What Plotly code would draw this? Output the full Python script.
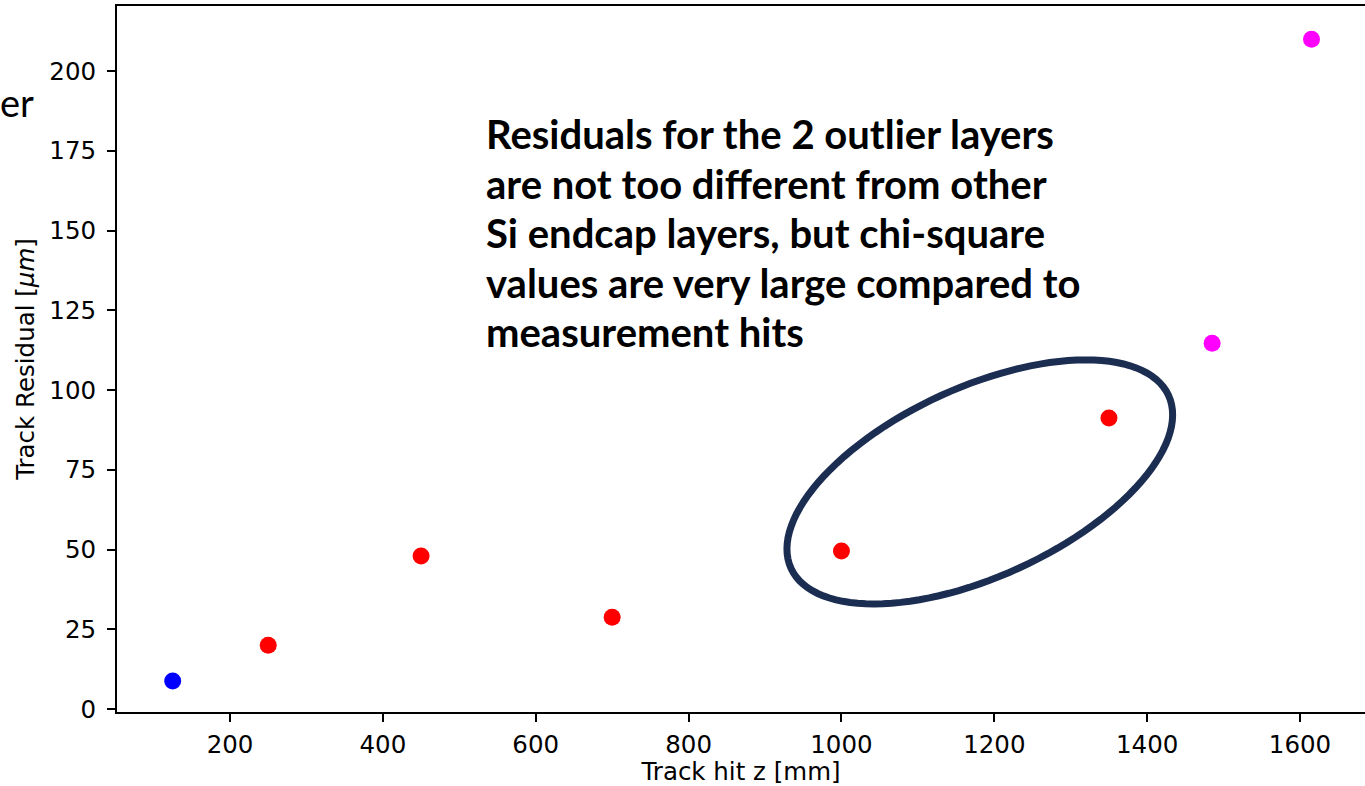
import numpy as np
import plotly.graph_objects as go

# Track hit positions along z [mm] and the fitted-track residuals [um]
hit_z = [125, 250, 450, 700, 1000, 1350, 1485, 1615]
residual = [8.8, 20.0, 48.0, 28.8, 49.5, 91.2, 114.7, 210.0]
hit_color = ["#0000ff", "#ff0000", "#ff0000", "#ff0000", "#ff0000", "#ff0000", "#ff00ff", "#ff00ff"]

x_ticks = [200, 400, 600, 800, 1000, 1200, 1400, 1600]
y_ticks = [0, 25, 50, 75, 100, 125, 150, 175, 200]

note_lines = [
    "Residuals for the 2 outlier layers",
    "are not too different from other",
    "Si endcap layers, but chi-square",
    "values are very large compared to",
    "measurement hits",
]

# Ellipse around the two outlier layers (data units: centre and two semi-axis vectors)
ell_center = (1181.0, 71.2)
ell_u = (247.0, 27.1)
ell_v = (51.5, -27.0)

fig = go.Figure()
fig.add_trace(go.Scatter(
    x=hit_z, y=residual, mode="markers",
    marker=dict(size=17, color=hit_color, line=dict(width=0)),
    showlegend=False, hoverinfo="x+y",
))

t = np.linspace(0, 2 * np.pi, 121)
ex = ell_center[0] + np.cos(t) * ell_u[0] + np.sin(t) * ell_v[0]
ey = ell_center[1] + np.cos(t) * ell_u[1] + np.sin(t) * ell_v[1]
path = "M " + " L ".join(f"{a:.2f},{b:.3f}" for a, b in zip(ex, ey)) + " Z"
fig.add_shape(type="path", path=path, xref="x", yref="y",
              line=dict(color="#1b2d51", width=7), layer="above")

tick_font = dict(family="DejaVu Sans", size=24.5, color="#000000")
title_font = dict(family="DejaVu Sans", size=24.5, color="#000000")

fig.update_layout(
    width=1365, height=786,
    margin=dict(l=117, r=0, t=6, b=74),
    paper_bgcolor="white", plot_bgcolor="white",
    xaxis=dict(
        range=[52.15, 1685], tickvals=x_ticks, ticktext=[str(v) for v in x_ticks],
        showgrid=False, zeroline=False, showline=True, linecolor="black", linewidth=2,
        mirror=True, ticks="outside", ticklen=8, tickwidth=1.5, tickcolor="black",
        tickfont=tick_font, ticklabelstandoff=2,
        title=dict(text="Track hit z [mm]", font=title_font, standoff=6),
    ),
    yaxis=dict(
        range=[-0.94, 220.4], tickvals=y_ticks, ticktext=[str(v) for v in y_ticks],
        showgrid=False, zeroline=False, showline=True, linecolor="black", linewidth=2,
        mirror=False, ticks="outside", ticklen=8, tickwidth=1.5, tickcolor="black",
        tickfont=tick_font, ticklabelstandoff=6,
        title=dict(text="Track Residual [<i>μm</i>]", font=title_font, standoff=8),
    ),
)

# Note text, one annotation per line to control the line spacing
plot_h = 786 - 6 - 74
for i, line in enumerate(note_lines):
    centre_px = 134 + i * 49.5
    fig.add_annotation(
        text=line, xref="paper", yref="paper",
        x=(484 - 117) / 1248, y=1 - (centre_px - 6) / plot_h,
        xanchor="left", yanchor="middle", showarrow=False,
        font=dict(family="Lato", size=40, color="#000000", weight="bold"),
    )

fig.add_annotation(
    text="er", xref="paper", yref="paper",
    x=(36 - 117) / 1248, y=1 - (102 - 6) / plot_h,
    xanchor="right", yanchor="middle", showarrow=False,
    font=dict(family="Lato", size=38, color="#000000"),
)

fig.write_html("out.html")
